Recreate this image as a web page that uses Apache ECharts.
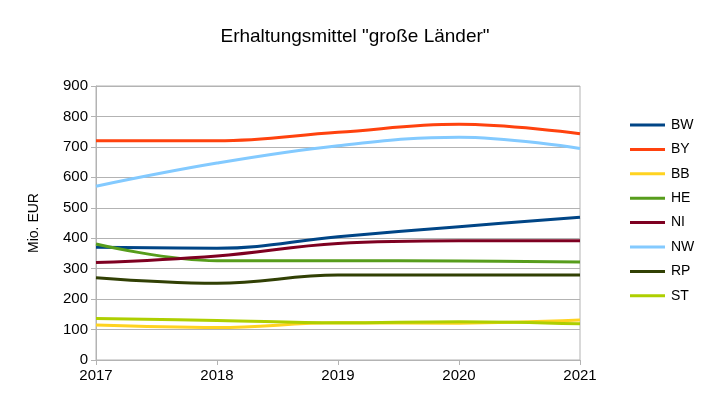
<!DOCTYPE html>
<html>
<head>
<meta charset="utf-8">
<script src="https://cdn.jsdelivr.net/npm/echarts@6/dist/echarts.min.js"></script>
<style>html,body{margin:0;padding:0;background:#fff;}#c{width:710px;height:419px;}</style>
</head>
<body>
<div id="c"></div>
<script>
const years = ['2017', '2018', '2019', '2020', '2021'];
const seriesNames = ['BW', 'BY', 'BB', 'HE', 'NI', 'NW', 'RP', 'ST'];
const BW = [370, 367, 405, 438, 469];
const BY = [720, 720, 748, 774, 743];
const BB = [115, 107, 122, 121, 131];
const HE = [381, 326, 326, 325, 322];
const NI = [320, 342, 383, 392, 392];
const NW = [571, 647, 704, 732, 695];
const RP = [270, 252, 279, 279, 279];
const ST = [136, 130, 122, 126, 119];
const yTicks = [0, 100, 200, 300, 400, 500, 600, 700, 800, 900];

const dataMap = {BW, BY, BB, HE, NI, NW, RP, ST};
const colors = ['#004586', '#ff420e', '#ffd320', '#579d1c', '#7e0021', '#83caff', '#314004', '#aecf00'];

const chart = echarts.init(document.getElementById('c'));
chart.setOption({
  animation: false,
  color: colors,
  title: {
    text: 'Erhaltungsmittel "große Länder"',
    left: 'center', top: 22,
    textStyle: {fontFamily: 'Liberation Sans', fontSize: 19, fontWeight: 'normal', color: '#000'}
  },
  legend: {
    orient: 'vertical', left: 625, top: 113,
    icon: 'rect', itemWidth: 35, itemHeight: 3, itemGap: 10.4,
    textStyle: {fontFamily: 'Liberation Sans', fontSize: 14, color: '#000', padding: [0,0,0,1]},
    data: seriesNames
  },
  grid: {left: 96, right: 130, top: 86, bottom: 59, containLabel: false,
         show: true, borderColor: '#b3b3b3', borderWidth: 1},
  xAxis: {
    type: 'category', data: years, boundaryGap: false,
    axisLine: {lineStyle: {color: '#b3b3b3'}},
    axisTick: {show: true, length: 5, lineStyle: {color: '#b3b3b3'}},
    axisLabel: {fontFamily: 'Liberation Sans', fontSize: 15, color: '#000', margin: 8},
    splitLine: {show: false}
  },
  yAxis: {
    type: 'value', min: yTicks[0], max: yTicks[yTicks.length-1], interval: 100,
    name: 'Mio. EUR', nameLocation: 'middle', nameGap: 55, nameRotate: 90,
    nameTextStyle: {fontFamily: 'Liberation Sans', fontSize: 14, color: '#000'},
    axisLine: {show: true, lineStyle: {color: '#b3b3b3'}},
    axisTick: {show: true, length: 5, lineStyle: {color: '#b3b3b3'}},
    axisLabel: {fontFamily: 'Liberation Sans', fontSize: 15, color: '#000', margin: 8},
    splitLine: {lineStyle: {color: '#b3b3b3'}}
  },
  series: seriesNames.map((n) => ({
    name: n, type: 'line', data: dataMap[n], smooth: 0.4,
    showSymbol: false, symbol: 'none',
    lineStyle: {width: 3}
  }))
});
</script>
</body>
</html>
